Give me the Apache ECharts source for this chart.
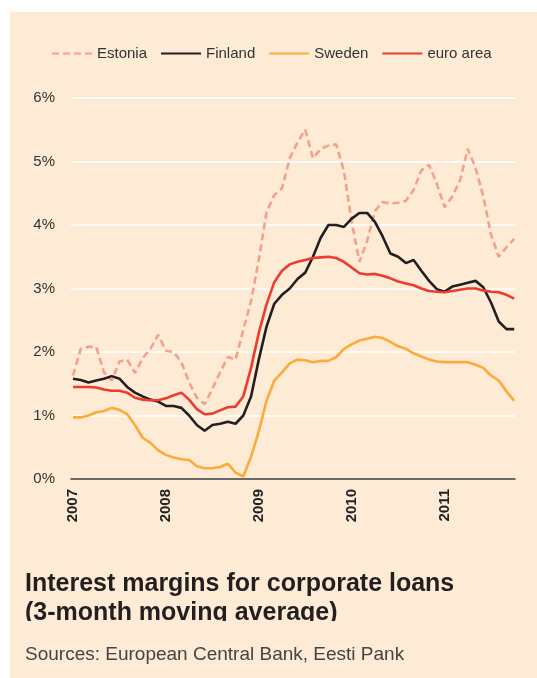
<!DOCTYPE html>
<html lang="en">
<head>
<meta charset="UTF-8">
<title>Interest margins for corporate loans</title>
<style>
    html, body { margin: 0; padding: 0; background: #fff; }
    #panel { position: absolute; left: 10px; top: 12px; right: 0; bottom: 0; background: #fdebd5; }
    #main { position: absolute; left: 0; top: 0; width: 537px; height: 678px; }
</style>
</head>
<body>
<div id="panel"></div>
<div id="main"></div>
<script src="https://cdn.jsdelivr.net/npm/echarts@6/dist/echarts.min.js"></script>
<script>
    // monthly, Jan 2007 .. Oct 2011
    var yearTicks = [0, 12, 24, 36, 48];
    var yearLabels = ['2007', '2008', '2009', '2010', '2011'];

    var estonia = [1.63, 2.05, 2.08, 2.08, 1.68, 1.55, 1.85, 1.88, 1.67, 1.9,
        2.05, 2.27, 2.02, 2.0, 1.84, 1.52, 1.28, 1.18, 1.42, 1.68,
        1.92, 1.88, 2.35, 2.8, 3.45, 4.2, 4.47, 4.58, 5.05, 5.3,
        5.5, 5.05, 5.2, 5.25, 5.27, 4.85, 4.05, 3.42, 3.75, 4.22,
        4.36, 4.34, 4.35, 4.38, 4.55, 4.86, 4.95, 4.65, 4.28, 4.45,
        4.7, 5.2, 4.9, 4.45, 3.85, 3.5, 3.65, 3.78];
    var finland = [1.58, 1.56, 1.52, 1.55, 1.58, 1.62, 1.58, 1.45, 1.36, 1.3,
        1.25, 1.22, 1.15, 1.15, 1.12, 1.0, 0.85, 0.76, 0.85, 0.87,
        0.9, 0.87, 1.0, 1.3, 1.88, 2.4, 2.76, 2.9, 3.0, 3.15,
        3.25, 3.5, 3.8, 4.0, 4.0, 3.97, 4.1, 4.19, 4.19, 4.05,
        3.82, 3.55, 3.5, 3.4, 3.45, 3.28, 3.12, 2.99, 2.95, 3.03,
        3.06, 3.09, 3.12, 3.02, 2.78, 2.48, 2.36, 2.36];
    var sweden = [0.97, 0.97, 1.0, 1.05, 1.07, 1.12, 1.09, 1.02, 0.85, 0.65,
        0.57, 0.45, 0.38, 0.34, 0.31, 0.3, 0.2, 0.17, 0.17, 0.19,
        0.24, 0.1, 0.04, 0.35, 0.75, 1.23, 1.55, 1.68, 1.82, 1.88,
        1.87, 1.84, 1.86, 1.86, 1.92, 2.05, 2.12, 2.18, 2.21, 2.24,
        2.22, 2.16, 2.09, 2.05, 1.98, 1.93, 1.88, 1.85, 1.84, 1.84,
        1.84, 1.84, 1.8, 1.75, 1.63, 1.55, 1.38, 1.23];
    var euroArea = [1.45, 1.45, 1.45, 1.44, 1.41, 1.39, 1.39, 1.36, 1.28, 1.25,
        1.24, 1.24, 1.27, 1.32, 1.36, 1.25, 1.1, 1.02, 1.03, 1.08,
        1.13, 1.14, 1.3, 1.75, 2.3, 2.75, 3.1, 3.28, 3.38, 3.42,
        3.45, 3.48, 3.49, 3.5, 3.48, 3.42, 3.33, 3.24, 3.22, 3.23,
        3.2, 3.16, 3.11, 3.08, 3.05, 3.0, 2.96, 2.95, 2.94, 2.96,
        2.98, 3.0, 3.0, 2.97, 2.95, 2.94, 2.9, 2.84];

    var panelColor = '#fdebd5';
    var font = 'Liberation Sans, Arial, Helvetica, sans-serif';

    function pairs(arr) {
        return arr.map(function (v, i) { return [i, v]; });
    }

    function lineSeries(name, data, color, dashed) {
        return {
            name: name,
            type: 'line',
            data: pairs(data),
            symbol: 'none',
            smooth: false,
            lineStyle: { color: color, width: 2.6, type: dashed ? [7, 4] : 'solid' },
            itemStyle: { color: color }
        };
    }

    var chart = echarts.init(document.getElementById('main'));

    chart.setOption({
        animation: false,
        textStyle: { fontFamily: font },
        legend: {
            left: 46,
            top: 41,
            itemWidth: 40,
            itemHeight: 14,
            itemGap: 13,
            // only the line in the key, no marker dot
            itemStyle: { opacity: 0 },
            textStyle: { fontSize: 15, color: '#333' },
            data: ['Estonia', 'Finland', 'Sweden', 'euro area']
        },
        grid: { left: 71, right: 22, top: 98, bottom: 199 },
        xAxis: {
            type: 'value',
            min: -0.26,
            max: 57.1,
            axisLine: { show: true, lineStyle: { color: '#3c3a38', width: 1.5 } },
            axisTick: { show: false },
            splitLine: { show: false },
            axisLabel: {
                customValues: yearTicks,
                rotate: 90,
                margin: 10,
                fontSize: 15,
                fontWeight: 'bold',
                color: '#222',
                formatter: function (v) {
                    return yearLabels[yearTicks.indexOf(v)];
                }
            }
        },
        yAxis: {
            type: 'value',
            min: 0,
            max: 6,
            interval: 1,
            axisLine: { show: false },
            axisTick: { show: false },
            axisLabel: { formatter: '{value}%', fontSize: 15, color: '#333', margin: 16 },
            splitLine: { lineStyle: { color: '#ffffff', width: 1.5 } }
        },
        series: [
            lineSeries('Sweden', sweden, '#fbab3b', false),
            lineSeries('Estonia', estonia, '#f5a08b', true),
            lineSeries('Finland', finland, '#231f20', false),
            lineSeries('euro area', euroArea, '#ec3b2f', false)
        ],
        graphic: [
            {
                type: 'text', z: 10,
                style: { x: 25, y: 584, text: 'Interest margins for corporate loans',
                    font: 'bold 25px ' + font, fill: '#231f20', textVerticalAlign: 'middle' }
            },
            {
                type: 'text', z: 10,
                style: { x: 25, y: 613, text: '(3-month moving average)',
                    font: 'bold 25px ' + font, fill: '#231f20', textVerticalAlign: 'middle' }
            },
            {
                // the printed title is cut off just under the second line
                type: 'rect', z: 20,
                shape: { x: 10, y: 621, width: 527, height: 18 },
                style: { fill: panelColor }
            },
            {
                type: 'text', z: 10,
                style: { x: 25, y: 655, text: 'Sources: European Central Bank, Eesti Pank',
                    font: '19px ' + font, fill: '#444', textVerticalAlign: 'middle' }
            }
        ]
    });
</script>
</body>
</html>
